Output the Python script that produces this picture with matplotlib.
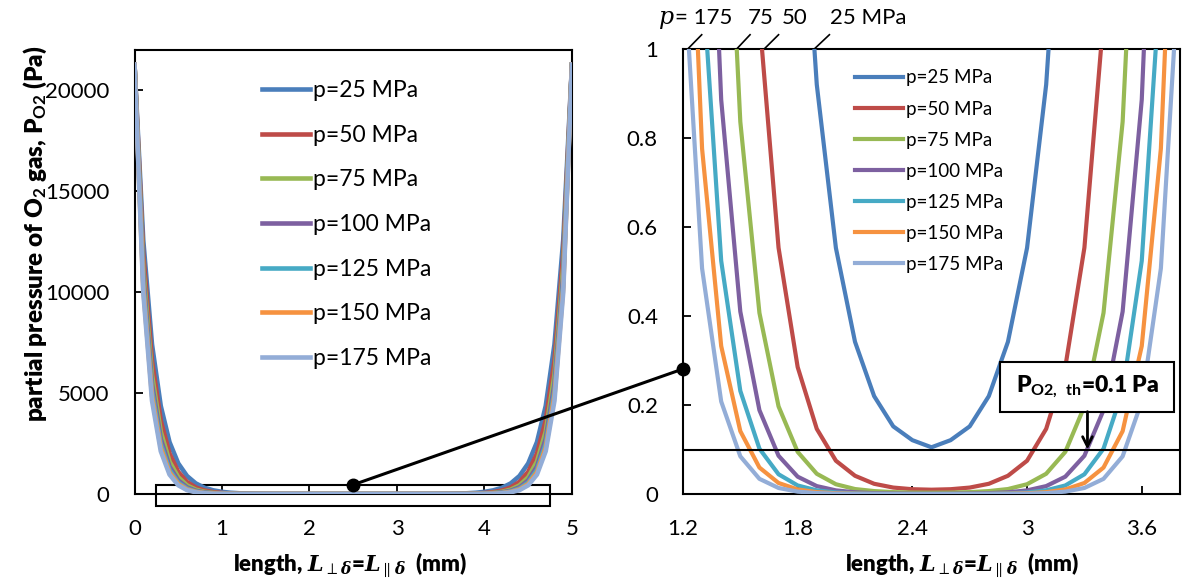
import matplotlib
matplotlib.use('Agg')
import matplotlib.pyplot as plt
from matplotlib.patches import Rectangle, ConnectionPatch
import matplotlib.transforms as mtrans

plt.rcParams['font.family'] = ['Lato', 'DejaVu Sans']
plt.rcParams['mathtext.fontset'] = 'custom'
plt.rcParams['mathtext.rm'] = 'Lato:bold'
plt.rcParams['mathtext.bf'] = 'Lato:bold'
plt.rcParams['mathtext.it'] = 'DejaVu Serif:italic:bold'

# length grid (mm)
length = [0.0, 0.1, 0.2, 0.3, 0.4, 0.5, 0.6, 0.7, 0.8, 0.9, 1.0, 1.1, 1.2, 1.3, 1.4, 1.5, 1.6,
          1.7, 1.8, 1.9, 2.0, 2.1, 2.2, 2.3, 2.4, 2.5, 2.6, 2.7, 2.8, 2.9, 3.0, 3.1, 3.2, 3.3,
          3.4, 3.5, 3.6, 3.7, 3.8, 3.9, 4.0, 4.1, 4.2, 4.3, 4.4, 4.5, 4.6, 4.7, 4.8, 4.9, 5.0]

# partial pressure of O2 (Pa) for each total pressure
p25 = [21280, 12580, 7413, 4365, 2572, 1516, 893, 526, 309.7, 182.5, 107.6, 63.4, 37.3, 21.99,
       12.97, 7.64, 4.50, 2.649, 1.563, 0.92, 0.553, 0.342, 0.22, 0.152, 0.121, 0.105, 0.121,
       0.152, 0.22, 0.342, 0.553, 0.92, 1.563, 2.649, 4.50, 7.64, 12.97, 21.99, 37.3, 63.4,
       107.6, 182.5, 309.7, 526, 893, 1516, 2572, 4365, 7413, 12580, 21280]
p50 = [21280, 11870, 6586, 3638, 2001, 1095, 596.9, 323.7, 174.8, 93.9, 50.23, 26.75, 14.18,
       7.48, 3.929, 2.054, 1.069, 0.5535, 0.2853, 0.1464, 0.0748, 0.041, 0.023, 0.0145, 0.0108,
       0.0097, 0.0108, 0.0145, 0.023, 0.041, 0.0748, 0.1464, 0.2853, 0.5535, 1.069, 2.054,
       3.929, 7.48, 14.18, 26.75, 50.23, 93.9, 174.8, 323.7, 596.9, 1095, 2001, 3638, 6586,
       11870, 21280]
p75 = [21280, 11250, 5913, 3091, 1607, 830.9, 427.2, 218.5, 111.1, 56.2, 28.25, 14.13, 7.03,
       3.476, 1.71, 0.8366, 0.407, 0.197, 0.0947, 0.0455, 0.022, 0.0112, 0.0066, 0.0043, 0.0033,
       0.003, 0.0033, 0.0043, 0.0066, 0.0112, 0.022, 0.0455, 0.0947, 0.197, 0.407, 0.8366, 1.71,
       3.476, 7.03, 14.13, 28.25, 56.2, 111.1, 218.5, 427.2, 830.9, 1607, 3091, 5913, 11250,
       21280]
p100 = [21280, 10810, 5458, 2736, 1362, 674.3, 331.3, 161.7, 78.4, 37.8, 18.07, 8.59, 4.055,
        1.902, 0.886, 0.41, 0.1884, 0.086, 0.039, 0.0178, 0.0082, 0.0039, 0.0019, 0.001, 0.0006,
        0.0005, 0.0006, 0.001, 0.0019, 0.0039, 0.0082, 0.0178, 0.039, 0.086, 0.1884, 0.41, 0.886,
        1.902, 4.055, 8.59, 18.07, 37.8, 78.4, 161.7, 331.3, 674.3, 1362, 2736, 5458, 10810,
        21280]
p125 = [21280, 10480, 5120, 2483, 1195, 570.5, 270.4, 127.2, 59.4, 27.5, 12.65, 5.77, 2.614,
        1.175, 0.524, 0.2318, 0.1019, 0.0444, 0.0192, 0.0083, 0.0035, 0.0015, 0.0006, 0.00026,
        0.00013, 0.00009, 0.00013, 0.00026, 0.0006, 0.0015, 0.0035, 0.0083, 0.0192, 0.0444,
        0.1019, 0.2318, 0.524, 1.175, 2.614, 5.77, 12.65, 27.5, 59.4, 127.2, 270.4, 570.5, 1195,
        2483, 5120, 10480, 21280]
p150 = [21280, 10220, 4864, 2296, 1074, 497.7, 228.8, 104.2, 47.1, 21.1, 9.35, 4.12, 1.795,
        0.776, 0.3325, 0.1413, 0.0595, 0.0248, 0.0103, 0.0042, 0.0017, 0.0007, 0.00028, 0.00011,
        0.00005, 0.00003, 0.00005, 0.00011, 0.00028, 0.0007, 0.0017, 0.0042, 0.0103, 0.0248,
        0.0595, 0.1413, 0.3325, 0.776, 1.795, 4.12, 9.35, 21.1, 47.1, 104.2, 228.8, 497.7, 1074,
        2296, 4864, 10220, 21280]
p175 = [21280, 9980, 4624, 2123, 966, 434.5, 193.6, 85.3, 37.2, 16.1, 6.89, 2.92, 1.222, 0.507,
        0.208, 0.0847, 0.0341, 0.0136, 0.0054, 0.0021, 0.0008, 0.0003, 0.00012, 0.00004, 0.00002,
        0.00001, 0.00002, 0.00004, 0.00012, 0.0003, 0.0008, 0.0021, 0.0054, 0.0136, 0.0341,
        0.0847, 0.208, 0.507, 1.222, 2.92, 6.89, 16.1, 37.2, 85.3, 193.6, 434.5, 966, 2123, 4624,
        9980, 21280]

series = [p25, p50, p75, p100, p125, p150, p175]
labels = ['p=25 MPa', 'p=50 MPa', 'p=75 MPa', 'p=100 MPa', 'p=125 MPa', 'p=150 MPa', 'p=175 MPa']
colors = ['#4A7EBB', '#BE4B48', '#98B954', '#7D60A0', '#46AAC5', '#F69240', '#93ADD7']

left_yticks = [0, 5000, 10000, 15000, 20000]
left_xticks = [0, 1, 2, 3, 4, 5]
right_yticks = [0, 0.2, 0.4, 0.6, 0.8, 1.0]
right_yticklabels = ['0', '0.2', '0.4', '0.6', '0.8', '1']
right_xticks = [1.2, 1.8, 2.4, 3.0, 3.6]
right_xticklabels = ['1.2', '1.8', '2.4', '3', '3.6']

threshold = 0.1
xlabel = 'length, $L_{\\perp\\delta}$=$L_{\\parallel\\delta}$  (mm)'

fig = plt.figure(figsize=(11.82, 5.81), dpi=100)
ax1 = fig.add_axes([0.1138, 0.1497, 0.3701, 0.7642])
ax2 = fig.add_axes([0.5778, 0.1497, 0.4205, 0.766])

for vals, c, lab in zip(series, colors, labels):
    ax1.plot(length, vals, color=c, lw=3.3, label=lab, zorder=3)
    ax2.plot(length, vals, color=c, lw=3, label=lab, zorder=3)

# left panel
ax1.set_xlim(0, 5)
ax1.set_ylim(0, 22000)
ax1.set_xticks(left_xticks)
ax1.set_yticks(left_yticks)
ax1.set_xlabel(xlabel, fontsize=16, fontweight='heavy')
ax1.set_ylabel('partial pressure of O$_2$ gas, P$_{\\rm O2}$ (Pa)', fontsize=17.5,
               fontweight='heavy')
ax1.xaxis.set_label_coords(0.4926, -0.128)
ax1.yaxis.set_label_coords(-0.195, 0.586)
ax1.legend(loc='upper left', bbox_to_anchor=(0.291, 0.932), frameon=False, fontsize=16.5,
           handlelength=2.1, handletextpad=0.15, labelspacing=1.03, borderpad=0,
           borderaxespad=0)
ax1.add_patch(Rectangle((0.25, -590), 4.5, 1050, fill=False, lw=1.5, ec='k',
                        clip_on=False, zorder=2))
ax1.plot([2.5], [460], 'ko', ms=9, clip_on=False, zorder=5)

# right panel (zoom)
ax2.set_xlim(1.2, 3.8)
ax2.set_ylim(0, 1)
ax2.set_xticks(right_xticks)
ax2.set_xticklabels(right_xticklabels)
ax2.set_yticks(right_yticks)
ax2.set_yticklabels(right_yticklabels)
ax2.set_xlabel(xlabel, fontsize=16, fontweight='heavy')
ax2.xaxis.set_label_coords(0.561, -0.128)
ax2.legend(loc='upper left', bbox_to_anchor=(0.346, 0.954), frameon=False, fontsize=13.5,
           handlelength=2.56, handletextpad=0.15, labelspacing=0.75, borderpad=0,
           borderaxespad=0)
ax2.axhline(threshold, color='k', lw=1.5, zorder=4)
ax2.plot([1.2], [0.281], 'ko', ms=9, clip_on=False, zorder=5)

# threshold label box with arrow
ax2.add_patch(Rectangle((2.861, 0.185), 0.909, 0.1125, fc='white', ec='k', lw=1.5, zorder=6))
ax2.text(3.316, 0.241, 'P$_{\\rm O2,\\ th}$=0.1 Pa', fontsize=16.5, fontweight='heavy',
         ha='center', va='center', zorder=7)
ax2.annotate('', xy=(3.316, threshold), xytext=(3.316, 0.185),
             arrowprops=dict(arrowstyle='->,head_length=0.7,head_width=0.35', lw=2,
                             color='k', shrinkA=0, shrinkB=0), zorder=7)

# pressure labels above the right panel
blend = mtrans.blended_transform_factory(ax2.transData, ax2.transAxes)
ax2.text(1.075, 1.07, 'p', transform=blend, fontsize=17, va='center', ha='left',
         family='DejaVu Serif', style='italic')
ax2.text(1.16, 1.07, '= 175', transform=blend, fontsize=16, va='center', ha='left')
ax2.text(1.54, 1.07, '75', transform=blend, fontsize=16, va='center', ha='left')
ax2.text(1.715, 1.07, '50', transform=blend, fontsize=16, va='center', ha='left')
ax2.text(1.970, 1.07, '25 MPa', transform=blend, fontsize=16, va='center', ha='left')
for x0, x1 in [(1.225, 1.298), (1.481, 1.551), (1.625, 1.70), (1.887, 1.966)]:
    ax2.plot([x0, x1], [1.0, 1.032], color='k', lw=1.2, transform=blend, clip_on=False)

for ax in (ax1, ax2):
    ax.tick_params(direction='in', length=6, width=1.3, labelsize=16, pad=18)
    for s in ax.spines.values():
        s.set_linewidth(1.5)

# connector between the panels
con = ConnectionPatch(xyA=(2.5, 460), coordsA=ax1.transData, xyB=(1.2, 0.281),
                      coordsB=ax2.transData, color='k', lw=2.2, zorder=10)
fig.add_artist(con)

fig.savefig('out.png', dpi=100)
